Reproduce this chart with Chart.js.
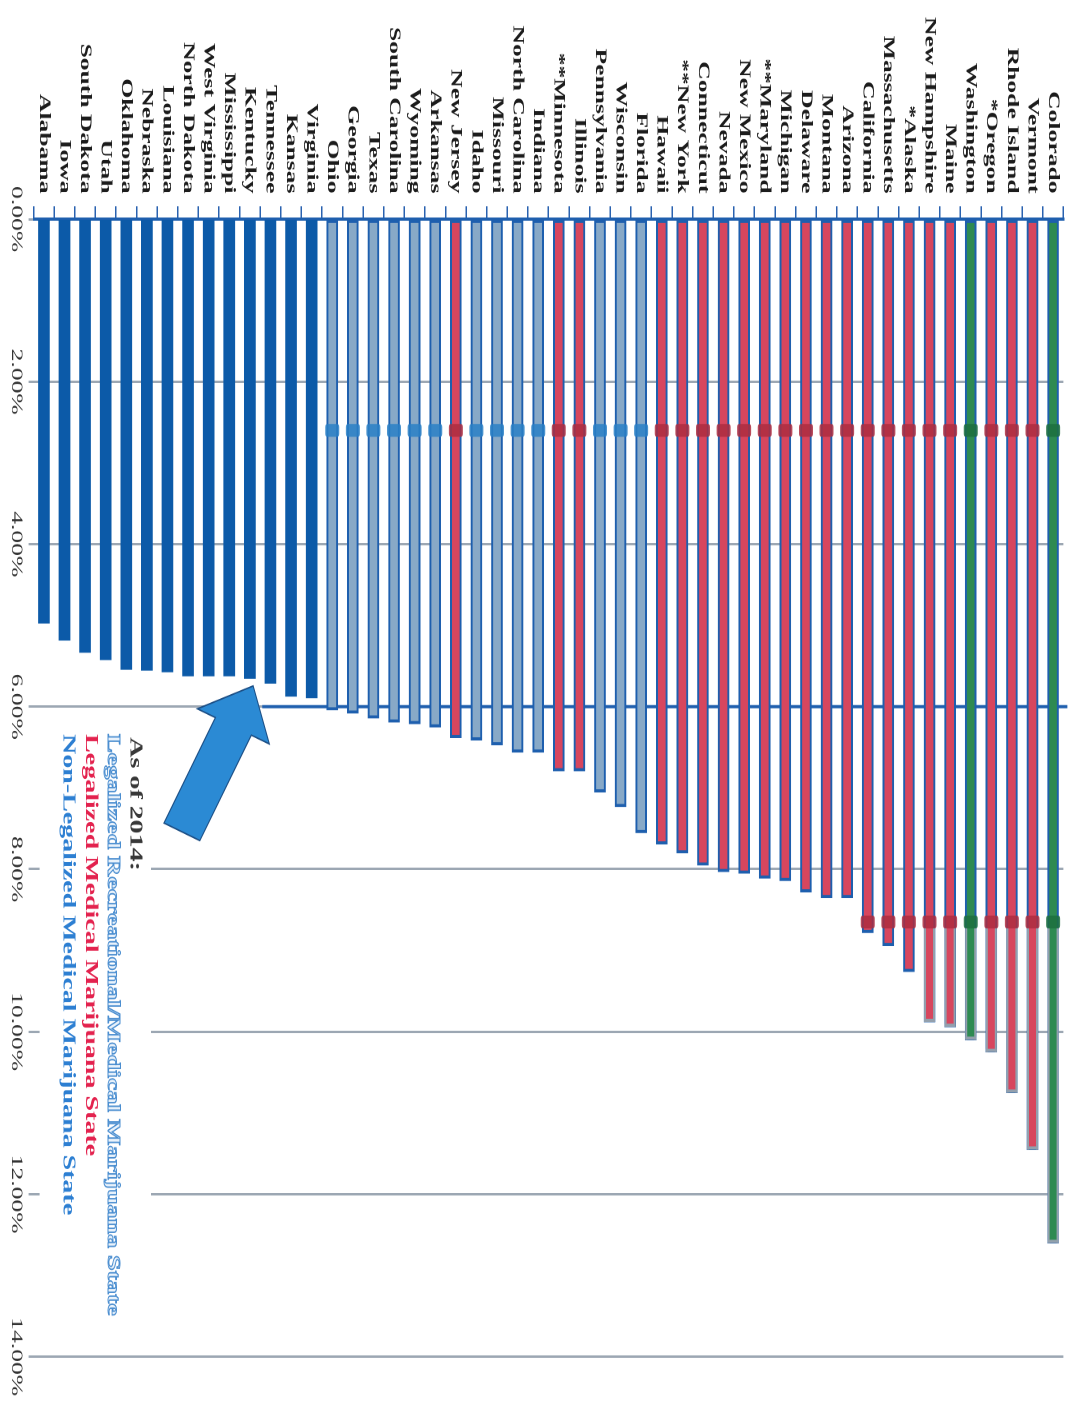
<!DOCTYPE html>
<html>
<head>
<meta charset="utf-8">
<title>Marijuana use by state, 2014</title>
<script src="https://cdn.jsdelivr.net/npm/chart.js@4.4.1/dist/chart.umd.min.js"></script>
<style>
  html, body { margin: 0; padding: 0; background: #ffffff; overflow: hidden; width: 1081px; height: 1401px; }
  /* The chart is laid out as a horizontal bar chart and turned a quarter clockwise onto the page,
     widened along its value axis. */
  #frame {
    position: absolute; left: 0; top: 0; width: 876px; height: 1081px;
    transform-origin: 0 0;
    transform: translate(1081px, 0) rotate(90deg) scale(1.5993, 1);
  }
</style>
</head>
<body>
<div id="frame"><canvas id="chart" width="876" height="1081"></canvas></div>
<script>
// ---- data -----------------------------------------------------------------
const states = [
  'Alabama', 'Iowa', 'South Dakota', 'Utah', 'Oklahoma', 'Nebraska', 'Louisiana',
  'North Dakota', 'West Virginia', 'Mississippi', 'Kentucky', 'Tennessee', 'Kansas',
  'Virginia', 'Ohio', 'Georgia', 'Texas', 'South Carolina', 'Wyoming', 'Arkansas',
  'New Jersey', 'Idaho', 'Missouri', 'North Carolina', 'Indiana', '**Minnesota',
  'Illinois', 'Pennsylvania', 'Wisconsin', 'Florida', 'Hawaii', '**New York',
  'Connecticut', 'Nevada', 'New Mexico', '**Maryland', 'Michigan', 'Delaware',
  'Montana', 'Arizona', 'California', 'Massachusetts', '*Alaska', 'New Hampshire',
  'Maine', 'Washington', '*Oregon', 'Rhode Island', 'Vermont', 'Colorado'
];

// percent of population, one value per state above
const rates = [
  4.97, 5.18, 5.33, 5.42, 5.54, 5.55, 5.57,
  5.62, 5.62, 5.62, 5.65, 5.71, 5.87,
  5.89, 6.04, 6.08, 6.14, 6.19, 6.21, 6.25,
  6.38, 6.41, 6.47, 6.56, 6.56, 6.79,
  6.79, 7.05, 7.23, 7.55, 7.69, 7.80,
  7.95, 8.03, 8.05, 8.11, 8.14, 8.28,
  8.35, 8.35, 8.78, 8.94, 9.26, 9.88,
  9.94, 10.10, 10.25, 10.75, 11.45, 12.60
];

// low = below 6% (no medical law), non = no medical law, med = medical, rec = recreational
const groups = [
  'low', 'low', 'low', 'low', 'low', 'low', 'low',
  'low', 'low', 'low', 'low', 'low', 'low',
  'low', 'non', 'non', 'non', 'non', 'non', 'non',
  'med', 'non', 'non', 'non', 'non', 'med',
  'med', 'non', 'non', 'non', 'med', 'med',
  'med', 'med', 'med', 'med', 'med', 'med',
  'med', 'med', 'med', 'med', 'med', 'med',
  'med', 'rec', 'med', 'med', 'med', 'rec'
];

const valueTicks = [0, 2, 4, 6, 8, 10, 12, 14];

const legendLines = [
  'As of 2014:',
  'Legalized Recreational/Medical Marijuana State',
  'Legalized Medical Marijuana State',
  'Non-Legalized Medical Marijuana State'
];

// ---- styling --------------------------------------------------------------
const STRETCH = 1401 / 876;   // widening applied by the CSS transform
const PAGE_H = 1081;          // canvas height in layout pixels
const SERIF = '"Liberation Serif", "Times New Roman", serif';

const palette = {
  low: { fill: '#0c5aa8', edge: '#0c5aa8', width: 0, band: null },
  non: { fill: '#88a9c7', edge: '#1e5fae', width: 2, band: '#2a80c6' },
  med: { fill: '#d7465e', edge: '#1e5fae', width: 2, band: '#ad2d40' },
  rec: { fill: '#2e8a52', edge: '#1e5fae', width: 2, band: '#1c6e3e' }
};

const legendStyles = [
  { fill: '#383838' },
  { fill: '#e9f2fb', stroke: '#4b8ed0' },
  { fill: '#e3224e' },
  { fill: '#2d7fd2' }
];

// ---- plugins --------------------------------------------------------------
// white panel under the legend, and the emphasised 6% reference line
const backdrop = {
  id: 'backdrop',
  beforeDatasetsDraw(chart) {
    const { ctx, scales: { x, y }, chartArea } = chart;
    ctx.save();
    ctx.fillStyle = '#ffffff';
    ctx.fillRect(452, 930, 390, chartArea.bottom - 930 - 6);

    const x6 = x.getPixelForValue(6);
    ctx.strokeStyle = '#1f5fae';
    ctx.lineWidth = 2;
    ctx.beginPath();
    ctx.moveTo(x6, chartArea.top - 4);
    ctx.lineTo(x6, y.getPixelForValue(10.6));
    ctx.stroke();
    ctx.restore();
  }
};

// darker bands across the bars and the grey-edged tails of the longest bars
const bandMarks = {
  id: 'bandMarks',
  afterDatasetsDraw(chart) {
    const { ctx, scales: { x } } = chart;
    const meta = chart.getDatasetMeta(0);
    ctx.save();
    meta.data.forEach((bar, i) => {
      const st = palette[groups[i]];
      if (!st.band) return;
      const { x: end, y: cy, height: h } = bar.getProps(['x', 'y', 'height'], true);

      if (rates[i] > 9.5) {
        const xa = x.getPixelForValue(8.72);
        ctx.fillStyle = '#93a0ad';
        ctx.fillRect(xa, cy - h / 2, end - xa, 2);
        ctx.fillRect(xa, cy + h / 2 - 2, end - xa, 2);
        ctx.fillRect(end - 2, cy - h / 2, 2, h);
      }

      const marks = [2.6];
      if (rates[i] >= 8.7) marks.push(8.65);
      ctx.fillStyle = st.band;
      ctx.globalAlpha = 0.85;
      marks.forEach(m => {
        const mx = x.getPixelForValue(m);
        ctx.beginPath();
        ctx.roundRect(mx - 4, cy - h / 2 - 1.5, 8, h + 3, 2);
        ctx.fill();
      });
      ctx.globalAlpha = 1;
    });
    ctx.restore();
  }
};

// legend text and the pointer arrow
const notes = {
  id: 'notes',
  afterDraw(chart) {
    const { ctx, scales: { x, y } } = chart;
    ctx.save();

    // legend
    ctx.font = 'bold 17.5px ' + SERIF;
    ctx.textAlign = 'left';
    ctx.textBaseline = 'middle';
    legendLines.forEach((line, k) => {
      const st = legendStyles[k];
      const ly = 946 + k * 22.3;
      const lx = k === 0 ? 461 : 459;
      ctx.fillStyle = st.fill;
      ctx.fillText(line, lx, ly);
      if (st.stroke) {
        ctx.strokeStyle = st.stroke;
        ctx.lineWidth = 0.9;
        ctx.strokeText(line, lx, ly);
      }
    });

    // arrow, built in page orientation so its proportions survive the widening
    const toPage = (px, py) => [PAGE_H - py, px * STRETCH];
    const toCanvas = (X, Y) => [Y / STRETCH, PAGE_H - X];
    const tip = toPage(x.getPixelForValue(5.745), y.getPixelForValue(10.16));
    const tail = toPage(x.getPixelForValue(7.54), y.getPixelForValue(6.7));
    const dx = tip[0] - tail[0], dy = tip[1] - tail[1];
    const len = Math.hypot(dx, dy);
    const u = [dx / len, dy / len];
    const n = [-u[1], u[0]];
    const headLen = 45, headHalf = 40, shaftHalf = 20;
    const base = [tip[0] - u[0] * headLen, tip[1] - u[1] * headLen];
    const pts = [
      tip,
      [base[0] + n[0] * headHalf, base[1] + n[1] * headHalf],
      [base[0] + n[0] * shaftHalf, base[1] + n[1] * shaftHalf],
      [tail[0] + n[0] * shaftHalf, tail[1] + n[1] * shaftHalf],
      [tail[0] - n[0] * shaftHalf, tail[1] - n[1] * shaftHalf],
      [base[0] - n[0] * shaftHalf, base[1] - n[1] * shaftHalf],
      [base[0] - n[0] * headHalf, base[1] - n[1] * headHalf]
    ].map(p => toCanvas(p[0], p[1]));
    ctx.beginPath();
    pts.forEach((p, k) => (k ? ctx.lineTo(p[0], p[1]) : ctx.moveTo(p[0], p[1])));
    ctx.closePath();
    ctx.fillStyle = '#2b8ad4';
    ctx.fill();
    ctx.strokeStyle = '#1c4f86';
    ctx.lineWidth = 1;
    ctx.stroke();

    ctx.restore();
  }
};

// ---- chart ----------------------------------------------------------------
Chart.defaults.font.family = SERIF;

new Chart(document.getElementById('chart'), {
  type: 'bar',
  data: {
    labels: states,
    datasets: [{
      data: rates,
      backgroundColor: groups.map(g => palette[g].fill),
      borderColor: groups.map(g => palette[g].edge),
      borderWidth: groups.map(g => palette[g].width),
      borderSkipped: false,
      barThickness: 11
    }]
  },
  options: {
    indexAxis: 'y',
    responsive: false,
    maintainAspectRatio: false,
    animation: false,
    devicePixelRatio: 2,
    layout: { padding: { top: 9.6, right: 27.5, bottom: 0, left: 0 } },
    plugins: {
      legend: { display: false },
      tooltip: { enabled: false }
    },
    scales: {
      x: {
        type: 'linear',
        position: 'bottom',
        min: 0,
        max: 14,
        afterBuildTicks: s => { s.ticks = valueTicks.map(v => ({ value: v })); },
        afterFit: s => { s.height = 33.6; },
        border: { display: false },
        grid: { color: '#9ca7b3', lineWidth: 1.5, tickLength: 5 },
        ticks: {
          padding: 3,
          color: '#333333',
          font: { size: 16, family: SERIF },
          callback: v => Number(v).toFixed(2) + '%'
        }
      },
      y: {
        type: 'category',
        reverse: true,
        afterFit: s => { s.width = 137; },
        border: { display: true, color: '#1f5fae', width: 2 },
        grid: { drawOnChartArea: false, color: '#2a62b0', lineWidth: 1.5, tickLength: 8 },
        ticks: {
          autoSkip: false,
          padding: 8,
          color: '#1c1c1c',
          font: { size: 16, weight: 'bold', family: SERIF }
        }
      }
    }
  },
  plugins: [backdrop, bandMarks, notes]
});
</script>
</body>
</html>
